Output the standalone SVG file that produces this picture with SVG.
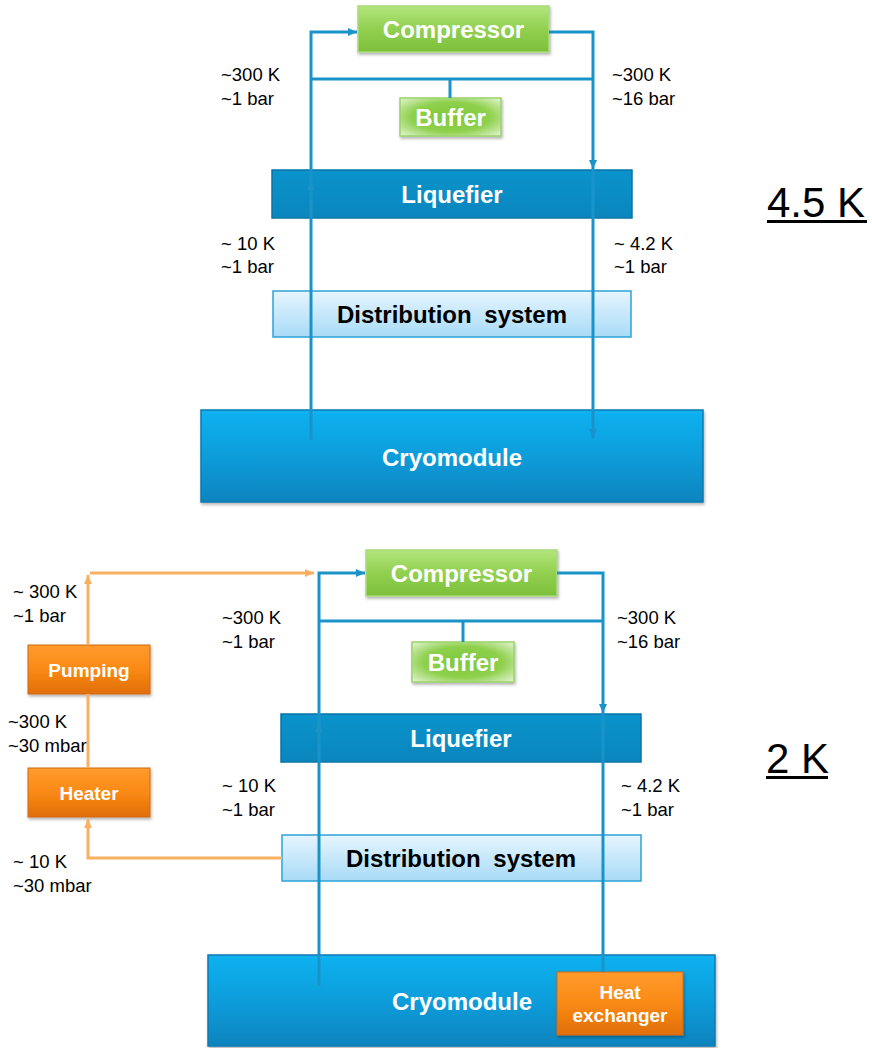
<svg xmlns="http://www.w3.org/2000/svg" width="872" height="1048" viewBox="0 0 872 1048">
<defs>
<linearGradient id="gGreen" x1="0" y1="0" x2="0" y2="1"><stop offset="0" stop-color="#B2E57C"/><stop offset="0.5" stop-color="#92D050"/><stop offset="1" stop-color="#7DBF3C"/></linearGradient>
<radialGradient id="gBuf" cx="0.5" cy="0.5" r="0.7"><stop offset="0" stop-color="#7FC93A"/><stop offset="0.55" stop-color="#8ED04C"/><stop offset="1" stop-color="#E4F5D2"/></radialGradient>
<linearGradient id="gLiq" x1="0" y1="0" x2="0" y2="1"><stop offset="0" stop-color="#0B93CB"/><stop offset="1" stop-color="#0A86BE"/></linearGradient>
<linearGradient id="gDist" x1="0" y1="0" x2="0" y2="1"><stop offset="0" stop-color="#E6F5FE"/><stop offset="1" stop-color="#A8DBF7"/></linearGradient>
<linearGradient id="gCryo" x1="0" y1="0" x2="0" y2="1"><stop offset="0" stop-color="#12B2F0"/><stop offset="0.5" stop-color="#0A9DDB"/><stop offset="1" stop-color="#0784BE"/></linearGradient>
<linearGradient id="gOr" x1="0" y1="0" x2="0" y2="1"><stop offset="0" stop-color="#FF9A2E"/><stop offset="0.5" stop-color="#FA8A14"/><stop offset="1" stop-color="#E06E08"/></linearGradient>
<filter id="sh" x="-10%" y="-10%" width="120%" height="130%"><feDropShadow dx="1" dy="2" stdDeviation="1.5" flood-color="#000" flood-opacity="0.3"/></filter>
<marker id="ab" markerUnits="userSpaceOnUse" markerWidth="10" markerHeight="10" refX="9" refY="5" orient="auto"><path d="M0,1 L9,5 L0,9 Z" fill="#1A93C9"/></marker>
<marker id="ao" markerUnits="userSpaceOnUse" markerWidth="10" markerHeight="10" refX="9" refY="5" orient="auto"><path d="M0,1 L9,5 L0,9 Z" fill="#F8B063"/></marker>
<style>
.lbl{font-family:"Liberation Sans",Arial,sans-serif;font-size:18.5px;fill:#000}
.nt{font-family:"Liberation Sans",Arial,sans-serif;font-weight:bold;font-size:24px;fill:#fff;text-anchor:middle}
.nd{font-family:"Liberation Sans",Arial,sans-serif;font-weight:bold;font-size:24px;fill:#000;text-anchor:middle;word-spacing:6px}
.ns{font-family:"Liberation Sans",Arial,sans-serif;font-weight:bold;font-size:19px;fill:#fff;text-anchor:middle}
.big{font-family:"Liberation Sans",Arial,sans-serif;font-size:42px;fill:#000}
.bl{fill:none;stroke:#1A93C9;stroke-width:3}
.ol{fill:none;stroke:#F8B063;stroke-width:3}
.green{fill:url(#gGreen);stroke:#A8DC78;stroke-width:1.5}
.buf{fill:url(#gBuf);stroke:#9BD26A;stroke-width:1.5}
.liq{fill:url(#gLiq);stroke:#0B74A6;stroke-width:1.5}
.dist{fill:url(#gDist);stroke:#2EA3D9;stroke-width:1.5}
.cryo{fill:url(#gCryo);stroke:#0A7AB0;stroke-width:1.5}
.or{fill:url(#gOr);stroke:#D06A10;stroke-width:1}
</style>
</defs>
<rect width="872" height="1048" fill="#fff"/>

<!-- Top section (4.5 K) -->
<g id="top-compressor"><rect class="green" x="358" y="6" width="191" height="46" filter="url(#sh)"/><text class="nt" x="453.5" y="38">Compressor</text></g>
<g id="top-buffer"><rect class="buf" x="400" y="98" width="101" height="38" filter="url(#sh)"/><text class="nt" x="450.5" y="126">Buffer</text></g>
<g id="top-liquefier"><rect class="liq" x="272" y="170" width="360" height="48"/><text class="nt" x="452" y="203">Liquefier</text></g>
<g id="top-distribution"><rect class="dist" x="273" y="291" width="358" height="46"/><text class="nd" x="452" y="323">Distribution system</text></g>
<g id="top-cryomodule"><rect class="cryo" x="201" y="410" width="502" height="92" filter="url(#sh)"/><text class="nt" x="452" y="466">Cryomodule</text></g>

<!-- Bottom section (2 K) -->
<g id="bot-compressor"><rect class="green" x="366" y="550" width="191" height="46" filter="url(#sh)"/><text class="nt" x="461.5" y="582">Compressor</text></g>
<g id="bot-buffer"><rect class="buf" x="412" y="642" width="102" height="40" filter="url(#sh)"/><text class="nt" x="463" y="671">Buffer</text></g>
<g id="bot-liquefier"><rect class="liq" x="281" y="714" width="360" height="48"/><text class="nt" x="461" y="747">Liquefier</text></g>
<g id="bot-distribution"><rect class="dist" x="282" y="835" width="359" height="46"/><text class="nd" x="461" y="867">Distribution system</text></g>
<g id="bot-cryomodule"><rect class="cryo" x="208" y="955" width="507" height="91" filter="url(#sh)"/><text class="nt" x="462" y="1010">Cryomodule</text></g>
<g id="heat-exchanger"><rect class="or" x="557" y="972" width="126" height="63" filter="url(#sh)"/><text class="ns" x="620" y="999">Heat</text><text class="ns" x="620" y="1022">exchanger</text></g>
<g id="pumping"><rect class="or" x="28" y="645" width="122" height="49" filter="url(#sh)"/><text class="ns" x="89" y="677">Pumping</text></g>
<g id="heater"><rect class="or" x="28" y="768" width="122" height="49" filter="url(#sh)"/><text class="ns" x="89" y="800">Heater</text></g>

<!-- Connectors -->
<g id="connectors">
<path class="bl" d="M311,440 V181" marker-end="url(#ab)"/>
<path class="bl" d="M311,181 V32 H357" marker-end="url(#ab)"/>
<path class="bl" d="M549,32 H593 V169" marker-end="url(#ab)"/>
<path class="bl" d="M593,169 V438" marker-end="url(#ab)"/>
<path class="bl" d="M311,79 H593 M450,79 V98"/>

<path class="bl" d="M319,986 V723" marker-end="url(#ab)"/>
<path class="bl" d="M319,723 V573 H365" marker-end="url(#ab)"/>
<path class="bl" d="M557,573 H603 V713" marker-end="url(#ab)"/>
<path class="bl" d="M603,713 V972"/>
<path class="bl" d="M319,621 H603 M463,621 V642"/>

<path class="ol" d="M282,858 H88 V819" marker-end="url(#ao)"/>
<path class="ol" d="M88,768 V694"/>
<path class="ol" d="M88,645 V575" marker-end="url(#ao)"/>
<path class="ol" d="M90,573 H314" marker-end="url(#ao)"/>
</g>

<!-- Labels -->
<g id="labels">
<text class="lbl" x="221" y="81">~300 K</text><text class="lbl" x="221" y="105">~1 bar</text>
<text class="lbl" x="612" y="81">~300 K</text><text class="lbl" x="612" y="105">~16 bar</text>
<text class="lbl" x="221" y="250">~ 10 K</text><text class="lbl" x="221" y="273">~1 bar</text>
<text class="lbl" x="614" y="250">~ 4.2 K</text><text class="lbl" x="614" y="273">~1 bar</text>

<text class="lbl" x="13" y="598">~ 300 K</text><text class="lbl" x="13" y="622">~1 bar</text>
<text class="lbl" x="222" y="624">~300 K</text><text class="lbl" x="222" y="648">~1 bar</text>
<text class="lbl" x="617" y="624">~300 K</text><text class="lbl" x="617" y="648">~16 bar</text>
<text class="lbl" x="8" y="728">~300 K</text><text class="lbl" x="8" y="752">~30 mbar</text>
<text class="lbl" x="222" y="792">~ 10 K</text><text class="lbl" x="222" y="816">~1 bar</text>
<text class="lbl" x="621" y="792">~ 4.2 K</text><text class="lbl" x="621" y="816">~1 bar</text>
<text class="lbl" x="13" y="868">~ 10 K</text><text class="lbl" x="13" y="892">~30 mbar</text>

<text class="big" x="767" y="217">4.5 K</text><rect x="767" y="220" width="100" height="3" fill="#000"/>
<text class="big" x="766" y="773">2 K</text><rect x="766" y="776" width="62" height="3" fill="#000"/>
</g>
</svg>
